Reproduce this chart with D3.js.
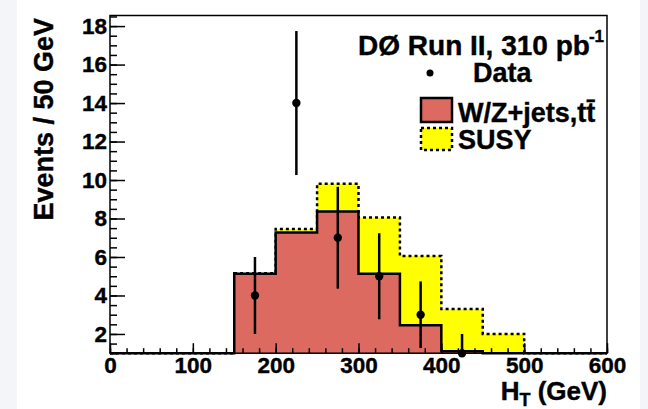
<!DOCTYPE html>
<html>
<head>
<meta charset="utf-8">
<script src="https://cdn.jsdelivr.net/npm/d3@7"></script>
<style>
html, body { margin: 0; padding: 0; background: #f4f5f9; }
svg { display: block; }
text { font-family: "Liberation Sans", Arial, Helvetica, sans-serif; font-weight: bold; fill: #000; stroke: #000; stroke-width: 0.4px; }
</style>
</head>
<body>
<svg id="chart" width="648" height="409"></svg>
<script>
// bins of 50 GeV from 0 to 600
const binStarts = [0, 50, 100, 150, 200, 250, 300, 350, 400, 450, 500, 550]
const binWidth = 50
const background = [0, 0, 0, 5.13, 7.27, 8.37, 5.13, 2.45, 1.1, 0, 0, 0]     // W/Z+jets, ttbar
const bkgPlusSusy = [0, 0, 0, 5.15, 7.45, 9.8, 8.05, 6.05, 3.3, 2.0, 0, 0]   // stacked SUSY on top
const dataCounts = [0, 0, 0, 4, 14, 7, 5, 3, 1, 0, 0, 0]
const xTicks = [0, 100, 200, 300, 400, 500, 600]
const yTicks = [2, 4, 6, 8, 10, 12, 14, 16, 18]

const RED = '#dc6a60'
const YELLOW = '#ffff00'

const svg = d3.select('#chart')
svg.append('rect').attr('x', 17).attr('y', 0).attr('width', 623).attr('height', 409).attr('fill', '#fff')

const plotLeft = 110, plotRight = 607, plotTop = 15.5, plotBottom = 353.2
const x = d3.scaleLinear().domain([0, 600]).range([plotLeft, plotRight])
const y = d3.scaleLinear().domain([1, 18.55]).range([plotBottom, plotTop]).clamp(true)

function stepPoints(values) {
    const pts = binStarts.map((s, i) => [s, values[i]])
    pts.push([binStarts[binStarts.length - 1] + binWidth, values[values.length - 1]])
    return pts
}

const area = d3.area()
    .curve(d3.curveStepAfter)
    .x(d => x(d[0]))
    .y0(plotBottom)
    .y1(d => y(d[1]))
const line = d3.line()
    .curve(d3.curveStepAfter)
    .x(d => x(d[0]))
    .y(d => y(d[1]))

const hist = svg.append('g')

// SUSY stacked (total)
hist.append('path')
    .attr('d', area(stepPoints(bkgPlusSusy)))
    .attr('fill', YELLOW)
hist.append('path')
    .attr('d', line(stepPoints(bkgPlusSusy)))
    .attr('fill', 'none')
    .attr('stroke', '#000')
    .attr('stroke-width', 2.5)
    .attr('stroke-dasharray', '3,3')

// background
hist.append('path')
    .attr('d', area(stepPoints(background)))
    .attr('fill', RED)
hist.append('path')
    .attr('d', line(stepPoints(background)))
    .attr('fill', 'none')
    .attr('stroke', '#000')
    .attr('stroke-width', 2.5)

// frame
svg.append('rect')
    .attr('x', plotLeft).attr('y', plotTop)
    .attr('width', plotRight - plotLeft).attr('height', plotBottom - plotTop)
    .attr('fill', 'none').attr('stroke', '#000').attr('stroke-width', 1.5)

// y axis: major and minor ticks pointing inwards
const yMinor = d3.range(1, 18.51, 0.5)
svg.append('g')
    .attr('transform', `translate(${plotLeft},0)`)
    .call(d3.axisLeft(y).tickValues(yMinor).tickSize(-7).tickFormat(''))
    .call(g => g.select('.domain').remove())
    .call(g => g.selectAll('line').attr('stroke-width', 1.5))
svg.append('g')
    .attr('transform', `translate(${plotLeft},0)`)
    .call(d3.axisLeft(y).tickValues(yTicks).tickSize(-15).tickPadding(3))
    .call(g => g.select('.domain').remove())
    .call(g => g.selectAll('line').attr('stroke-width', 1.5))
    .call(g => g.selectAll('text').attr('font-size', 22.5).attr('font-family', null))

// x axis
const xMinor = d3.range(0, 601, 20)
svg.append('g')
    .attr('transform', `translate(0,${plotBottom})`)
    .call(d3.axisBottom(x).tickValues(xMinor).tickSize(-5).tickFormat(''))
    .call(g => g.select('.domain').remove())
    .call(g => g.selectAll('line').attr('stroke-width', 1.5))
svg.append('g')
    .attr('transform', `translate(0,${plotBottom})`)
    .call(d3.axisBottom(x).tickValues(xTicks).tickSize(-10).tickPadding(4))
    .call(g => g.select('.domain').remove())
    .call(g => g.selectAll('line').attr('stroke-width', 1.5))
    .call(g => g.selectAll('text').attr('font-size', 22.5).attr('font-family', null))

// data points with sqrt(N) errors
const points = binStarts
    .map((s, i) => ({ c: s + binWidth / 2, n: dataCounts[i] }))
    .filter(d => d.n > 0)
const pts = svg.append('g')
pts.selectAll('line')
    .data(points)
    .join('line')
    .attr('x1', d => x(d.c)).attr('x2', d => x(d.c))
    .attr('y1', d => y(d.n - Math.sqrt(d.n)))
    .attr('y2', d => y(d.n + Math.sqrt(d.n)))
    .attr('stroke', '#000').attr('stroke-width', 2.5)
pts.selectAll('circle')
    .data(points)
    .join('circle')
    .attr('cx', d => x(d.c)).attr('cy', d => y(d.n))
    .attr('r', 4.2)
    .attr('fill', '#000')

// axis titles
svg.append('text')
    .attr('transform', `translate(53,18) rotate(-90)`)
    .attr('text-anchor', 'end')
    .attr('font-size', 27)
    .text('Events / 50 GeV')

const xt = svg.append('text')
    .attr('x', 607).attr('y', 400)
    .attr('text-anchor', 'end')
    .attr('font-size', 26)
xt.append('tspan').text('H')
xt.append('tspan').attr('font-size', 18).attr('dy', 6).text('T')
xt.append('tspan').attr('dy', -6).text(' (GeV)')

// legend
const title = svg.append('text')
    .attr('x', 604).attr('y', 55)
    .attr('text-anchor', 'end')
    .attr('font-size', 28)
title.append('tspan').text('DØ Run II, 310 pb')
title.append('tspan').attr('font-size', 17).attr('dy', -13).attr('dx', -1).text('-1')

const legend = svg.append('g')
legend.append('circle').attr('cx', 430).attr('cy', 73).attr('r', 3.5).attr('fill', '#000')
legend.append('text').attr('x', 473).attr('y', 82).attr('font-size', 27).text('Data')

legend.append('rect')
    .attr('x', 421).attr('y', 98).attr('width', 31).attr('height', 24)
    .attr('fill', RED).attr('stroke', '#000').attr('stroke-width', 2.5)
legend.append('text').attr('x', 458).attr('y', 122).attr('font-size', 27).text('W/Z+jets,tt\u0304')

legend.append('rect')
    .attr('x', 421).attr('y', 128).attr('width', 31).attr('height', 22)
    .attr('fill', YELLOW).attr('stroke', '#000').attr('stroke-width', 2.5)
    .attr('stroke-dasharray', '3,3')
legend.append('text').attr('x', 458).attr('y', 149).attr('font-size', 27).text('SUSY')
</script>
</body>
</html>
